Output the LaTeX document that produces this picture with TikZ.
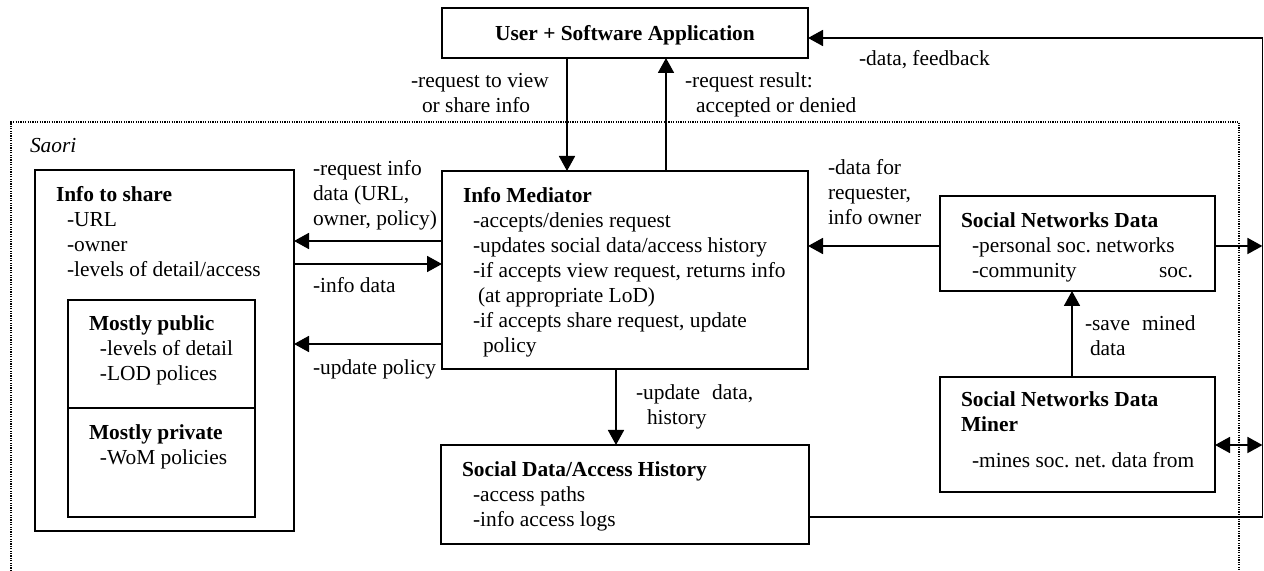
\documentclass[tikz,border=0pt]{standalone}
\usepackage{fontspec}
\setmainfont{Liberation Serif}
\usetikzlibrary{arrows.meta}
\frenchspacing
\newcommand\Ls[1]{\vtop{\baselineskip=12.5pt\lineskiplimit=-20pt\lineskip=0pt #1}}
\newcommand\In[1]{\hskip#1\relax}
\begin{document}
\begin{tikzpicture}[x=0.5pt,y=-0.5pt,
  box/.style={draw,line width=0.9pt,inner sep=0pt,outer sep=0pt,anchor=north west},
  txt/.style={inner sep=0pt,outer sep=0pt,anchor=base west,font=\fontsize{10.7}{12.5}\selectfont\frenchspacing},
  conn/.style={line width=0.9pt},
  arr/.style={conn,-{Triangle[length=7.5pt,width=8pt]}},
  darr/.style={conn,{Triangle[length=7.5pt,width=8pt]}-{Triangle[length=7.5pt,width=8pt]}},
  saori/.style={line width=0.65pt,dash pattern=on 0.65pt off 0.55pt}]
\useasboundingbox (0,0) rectangle (1264,571);

% Saori boundary (open at bottom)
\draw[saori] (11,571) -- (11,122) -- (1239,122) -- (1239,571);

% boxes
\node[box,minimum width=183pt,minimum height=25pt] (usr) at (442,8) {};
\node[box,minimum width=183pt,minimum height=99pt] (med) at (442,171) {};
\node[box,minimum width=129.5pt,minimum height=180.5pt] (info) at (35,170) {};
\node[box,minimum width=93.5pt,minimum height=54pt] (pub) at (68,300) {};
\node[box,minimum width=93.5pt,minimum height=54.5pt] (priv) at (68,408) {};
\node[box,minimum width=184pt,minimum height=49.5pt] (soc) at (441,445) {};
\node[box,minimum width=137.5pt,minimum height=47.5pt] (sn) at (940,196) {};
\node[box,minimum width=137.5pt,minimum height=57.5pt] (miner) at (940,377) {};

% box texts
\node[txt,anchor=base] (usrt) at (625,41) {\bfseries User + Software Application};
\node[txt] (medt) at (463,203) {\Ls{\hbox{\bfseries Info Mediator}\hbox{\In{5pt}-accepts/denies request}\hbox{\In{5pt}-updates social data/access history}\hbox{\In{5pt}-if accepts view request, returns info}\hbox{\In{7.5pt}(at appropriate LoD)}\hbox{\In{5pt}-if accepts share request, update}\hbox{\In{10pt}policy}}};
\node[txt] (infot) at (56,202) {\Ls{\hbox{\bfseries Info to share}\hbox{\In{5.5pt}-URL}\hbox{\In{5.5pt}-owner}\hbox{\In{5.5pt}-levels of detail/access}}};
\node[txt] (pubt) at (89,331) {\Ls{\hbox{\bfseries Mostly public}\hbox{\In{5.5pt}-levels of detail}\hbox{\In{5.5pt}-LOD polices}}};
\node[txt] (privt) at (89,440) {\Ls{\hbox{\bfseries Mostly private}\hbox{\In{5.5pt}-WoM policies}}};
\node[txt] (soct) at (462,477) {\Ls{\hbox{\bfseries Social Data/Access History}\hbox{\In{5.5pt}-access paths}\hbox{\In{5.5pt}-info access logs}}};
\node[txt] (snt) at (961,228) {\Ls{\hbox{\bfseries Social Networks Data}\hbox{\In{5.5pt}-personal soc. networks}\hbox{\In{5.5pt}\hbox to 110.5pt{-community\hfill soc.}}}};
\node[txt] (minert) at (961,407) {\Ls{\hbox{\bfseries Social Networks Data}\hbox{\bfseries Miner}}};
\node[txt] (minerd) at (972,468) {-mines soc. net. data from};

% labels
\node[txt] (l1) at (411,88) {\Ls{\hbox{-request to view}\hbox{\In{5.5pt}or share info}}};
\node[txt] (l2) at (685,88) {\Ls{\hbox{-request result:}\hbox{\In{5.5pt}accepted or denied}}};
\node[txt] (l3) at (859,66) {-data, feedback};
\node[txt] (saorit) at (30,153) {\itshape Saori};
\node[txt] (l4) at (313,176) {\Ls{\hbox{-request info}\hbox{data (URL,}\hbox{owner, policy)}}};
\node[txt] (l5) at (313,293) {-info data};
\node[txt] (l6) at (313,375) {-update policy};
\node[txt] (l7) at (828,175) {\Ls{\hbox{-data for}\hbox{requester,}\hbox{info owner}}};
\node[txt] (l8) at (636,400) {\Ls{\hbox{-update\hskip6pt data,}\hbox{\In{5.5pt}history}}};
\node[txt] (l9) at (1085,331) {\Ls{\hbox{-save\hskip6pt mined}\hbox{\In{2.5pt}data}}};

% helper coordinates
\coordinate (xa) at (567,0);
\coordinate (xb) at (666,0);
\coordinate (xc) at (616,0);
\coordinate (xd) at (1072,0);
\coordinate (xe) at (1262.4,0);
\coordinate (ya) at (0,241);
\coordinate (yb) at (0,264);
\coordinate (yc) at (0,344);
\coordinate (yd) at (0,246);
\coordinate (yf) at (0,445);
\coordinate (yg) at (0,517);
\coordinate (yh) at (0,38);

% connectors
\draw[arr] (usr.south -| xa) -- (med.north -| xa);
\draw[arr] (med.north -| xb) -- (usr.south -| xb);
\draw[arr] (med.west |- ya) -- (info.east |- ya);
\draw[arr] (info.east |- yb) -- (med.west |- yb);
\draw[arr] (med.west |- yc) -- (info.east |- yc);
\draw[arr] (sn.west |- yd) -- (med.east |- yd);
\draw[arr] (med.south -| xc) -- (soc.north -| xc);
\draw[arr] (miner.north -| xd) -- (sn.south -| xd);
\draw[arr] (soc.east |- yg) -- (xe |- yg) -- (xe |- yh) -- (usr.east |- yh);
\draw[arr] (sn.east |- yd) -- (xe |- yd);
\draw[darr] (miner.east |- yf) -- (xe |- yf);
\end{tikzpicture}
\end{document}
